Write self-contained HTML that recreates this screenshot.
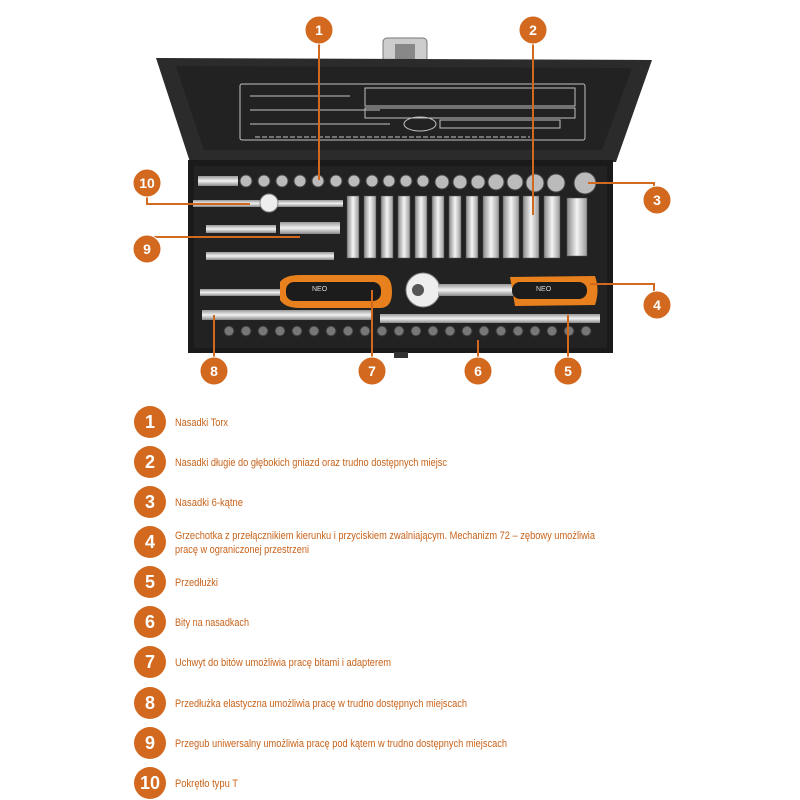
<!DOCTYPE html>
<html><head><meta charset="utf-8"><style>body{margin:0;background:#fff}svg{display:block}</style></head><body>
<svg width="800" height="800" viewBox="0 0 800 800" xmlns="http://www.w3.org/2000/svg" font-family="'Liberation Sans Narrow','Liberation Sans',sans-serif">
<defs>
<linearGradient id="ch" x1="0" x2="1"><stop offset="0" stop-color="#888"/><stop offset=".5" stop-color="#f4f4f4"/><stop offset="1" stop-color="#999"/></linearGradient>
<linearGradient id="chv" x1="0" y1="0" x2="0" y2="1"><stop offset="0" stop-color="#999"/><stop offset=".5" stop-color="#f2f2f2"/><stop offset="1" stop-color="#888"/></linearGradient>
</defs>
<!-- handle -->
<rect x="383" y="38" width="44" height="36" rx="4" fill="#ccc" stroke="#777"/>
<rect x="395" y="44" width="20" height="24" fill="#888"/>
<!-- lid -->
<polygon points="156,58 652,60 616,162 190,162" fill="#2b2b2b"/>
<polygon points="176,66 632,68 602,150 204,150" fill="#222"/>
<g stroke="#ddd" stroke-width="1" fill="none" opacity=".85">
<rect x="240" y="84" width="345" height="56" rx="2"/>
<line x1="250" y1="96" x2="350" y2="96"/><line x1="250" y1="110" x2="380" y2="110"/><line x1="250" y1="124" x2="390" y2="124"/>
<rect x="365" y="88" width="210" height="18"/><rect x="365" y="108" width="210" height="10"/>
<ellipse cx="420" cy="124" rx="16" ry="7"/><rect x="440" y="120" width="120" height="8"/>
<line x1="255" y1="137" x2="530" y2="137" stroke-dasharray="5 2"/>
</g>
<!-- tray -->
<rect x="188" y="160" width="425" height="193" fill="#1a1a1a"/>
<rect x="194" y="166" width="413" height="182" fill="#222"/>
<!-- top small sockets -->
<g fill="#bbb" stroke="#444">
<circle cx="246" cy="181" r="6"/><circle cx="264" cy="181" r="6"/><circle cx="282" cy="181" r="6"/><circle cx="300" cy="181" r="6"/><circle cx="318" cy="181" r="6"/><circle cx="336" cy="181" r="6"/>
<circle cx="354" cy="181" r="6"/><circle cx="372" cy="181" r="6"/><circle cx="389" cy="181" r="6"/><circle cx="406" cy="181" r="6"/><circle cx="423" cy="181" r="6"/>
<circle cx="442" cy="182" r="7"/><circle cx="460" cy="182" r="7"/><circle cx="478" cy="182" r="7"/><circle cx="496" cy="182" r="8"/><circle cx="515" cy="182" r="8"/><circle cx="535" cy="183" r="9"/><circle cx="556" cy="183" r="9"/><circle cx="585" cy="183" r="11"/>
</g>
<rect x="198" y="176" width="40" height="10" fill="url(#chv)"/>
<!-- T bar -->
<rect x="193" y="200" width="150" height="7" fill="url(#chv)"/>
<circle cx="269" cy="203" r="9" fill="#eee" stroke="#888"/>
<!-- long sockets -->
<g fill="url(#ch)" stroke="#555" stroke-width=".5">
<rect x="347" y="196" width="12" height="62"/><rect x="364" y="196" width="12" height="62"/><rect x="381" y="196" width="12" height="62"/><rect x="398" y="196" width="12" height="62"/><rect x="415" y="196" width="12" height="62"/><rect x="432" y="196" width="12" height="62"/><rect x="449" y="196" width="12" height="62"/><rect x="466" y="196" width="12" height="62"/>
<rect x="483" y="196" width="16" height="62"/><rect x="503" y="196" width="16" height="62"/><rect x="523" y="196" width="16" height="62"/><rect x="544" y="196" width="16" height="62"/><rect x="567" y="198" width="20" height="58"/>
</g>
<!-- adapters -->
<rect x="206" y="225" width="70" height="8" fill="url(#chv)"/><rect x="280" y="222" width="60" height="12" fill="url(#chv)"/>
<rect x="206" y="252" width="128" height="8" fill="url(#chv)"/>
<!-- bit holder handle (7) -->
<rect x="200" y="289" width="80" height="7" fill="url(#chv)"/>
<path d="M280,282 Q285,275 300,275 L380,275 Q392,275 392,292 Q392,308 380,308 L300,308 Q285,308 280,300 Z" fill="#e8801e"/>
<rect x="286" y="282" width="95" height="19" rx="8" fill="#1c1c1c"/>
<text x="312" y="291" font-size="7" fill="#ddd">NEO</text>
<!-- ratchet -->
<circle cx="423" cy="290" r="17" fill="#eee" stroke="#888"/><circle cx="418" cy="290" r="6" fill="#555"/>
<rect x="438" y="284" width="80" height="12" fill="url(#chv)"/>
<path d="M510,277 L595,276 Q600,290 595,305 L515,306 Z" fill="#e8801e"/>
<rect x="512" y="282" width="75" height="17" rx="8" fill="#1c1c1c"/>
<text x="536" y="291" font-size="7" fill="#ddd">NEO</text>
<!-- extensions -->
<rect x="202" y="310" width="170" height="10" fill="url(#chv)"/>
<rect x="380" y="314" width="220" height="9" fill="url(#chv)"/>
<!-- bottom bits -->
<g fill="#777" stroke="#333">
<circle cx="229" cy="331" r="5"/><circle cx="246" cy="331" r="5"/><circle cx="263" cy="331" r="5"/><circle cx="280" cy="331" r="5"/><circle cx="297" cy="331" r="5"/><circle cx="314" cy="331" r="5"/><circle cx="331" cy="331" r="5"/><circle cx="348" cy="331" r="5"/><circle cx="365" cy="331" r="5"/><circle cx="382" cy="331" r="5"/><circle cx="399" cy="331" r="5"/><circle cx="416" cy="331" r="5"/><circle cx="433" cy="331" r="5"/><circle cx="450" cy="331" r="5"/><circle cx="467" cy="331" r="5"/><circle cx="484" cy="331" r="5"/><circle cx="501" cy="331" r="5"/><circle cx="518" cy="331" r="5"/><circle cx="535" cy="331" r="5"/><circle cx="552" cy="331" r="5"/><circle cx="569" cy="331" r="5"/><circle cx="586" cy="331" r="5"/>
</g>
<rect x="394" y="352" width="14" height="6" fill="#333"/>
<!-- callout lines -->
<g stroke="#d2691e" stroke-width="2" fill="none">
<path d="M319,44 V180"/><path d="M533,44 V215"/>
<path d="M588,183 H654 V188"/><path d="M590,284 H654 V292"/>
<path d="M568,357 V315"/><path d="M478,357 V340"/><path d="M372,357 V290"/><path d="M214,357 V315"/>
<path d="M147,236 V237 H300"/><path d="M147,196 V204 H250"/>
</g>
<g fill="#d2691e" stroke="#fff" stroke-width="1">
<circle cx="319" cy="30" r="14"/><circle cx="533" cy="30" r="14"/><circle cx="657" cy="200" r="14"/><circle cx="657" cy="305" r="14"/><circle cx="568" cy="371" r="14"/><circle cx="478" cy="371" r="14"/><circle cx="372" cy="371" r="14"/><circle cx="214" cy="371" r="14"/><circle cx="147" cy="249" r="14"/><circle cx="147" cy="183" r="14"/>
</g>
<g fill="#fff" font-family="'Liberation Sans',sans-serif" font-weight="bold" font-size="14" text-anchor="middle">
<text x="319" y="35">1</text><text x="533" y="35">2</text><text x="657" y="205">3</text><text x="657" y="310">4</text><text x="568" y="376">5</text><text x="478" y="376">6</text><text x="372" y="376">7</text><text x="214" y="376">8</text><text x="147" y="254">9</text><text x="147" y="188">10</text>
</g>
<!-- legend -->
<g fill="#d2691e">
<circle cx="150" cy="422" r="16"/><circle cx="150" cy="462" r="16"/><circle cx="150" cy="502" r="16"/><circle cx="150" cy="542" r="16"/><circle cx="150" cy="582" r="16"/><circle cx="150" cy="622" r="16"/><circle cx="150" cy="662" r="16"/><circle cx="150" cy="703" r="16"/><circle cx="150" cy="743" r="16"/><circle cx="150" cy="783" r="16"/>
</g>
<g fill="#fff" font-family="'Liberation Sans',sans-serif" font-weight="bold" font-size="18" text-anchor="middle">
<text x="150" y="428">1</text><text x="150" y="468">2</text><text x="150" y="508">3</text><text x="150" y="548">4</text><text x="150" y="588">5</text><text x="150" y="628">6</text><text x="150" y="668">7</text><text x="150" y="709">8</text><text x="150" y="749">9</text><text x="150" y="789">10</text>
</g>
<g fill="#c8631a" font-size="11" lengthAdjust="spacingAndGlyphs">
<text x="175" y="426" textLength="53" lengthAdjust="spacingAndGlyphs">Nasadki Torx</text>
<text x="175" y="466" textLength="272" lengthAdjust="spacingAndGlyphs">Nasadki długie do głębokich gniazd oraz trudno dostępnych miejsc</text>
<text x="175" y="506" textLength="68" lengthAdjust="spacingAndGlyphs">Nasadki 6-kątne</text>
<text x="175" y="539" textLength="420" lengthAdjust="spacingAndGlyphs">Grzechotka z przełącznikiem kierunku i przyciskiem zwalniającym. Mechanizm 72 – zębowy umożliwia</text>
<text x="175" y="553" textLength="134" lengthAdjust="spacingAndGlyphs">pracę w ograniczonej przestrzeni</text>
<text x="175" y="586" textLength="43" lengthAdjust="spacingAndGlyphs">Przedłużki</text>
<text x="175" y="626" textLength="74" lengthAdjust="spacingAndGlyphs">Bity na nasadkach</text>
<text x="175" y="666" textLength="216" lengthAdjust="spacingAndGlyphs">Uchwyt do bitów umożliwia pracę bitami i adapterem</text>
<text x="175" y="707" textLength="292" lengthAdjust="spacingAndGlyphs">Przedłużka elastyczna umożliwia pracę w trudno dostępnych miejscach</text>
<text x="175" y="747" textLength="332" lengthAdjust="spacingAndGlyphs">Przegub uniwersalny umożliwia pracę pod kątem w trudno dostępnych miejscach</text>
<text x="175" y="787" textLength="63" lengthAdjust="spacingAndGlyphs">Pokrętło typu T</text>
</g>
</svg>
</body></html>
